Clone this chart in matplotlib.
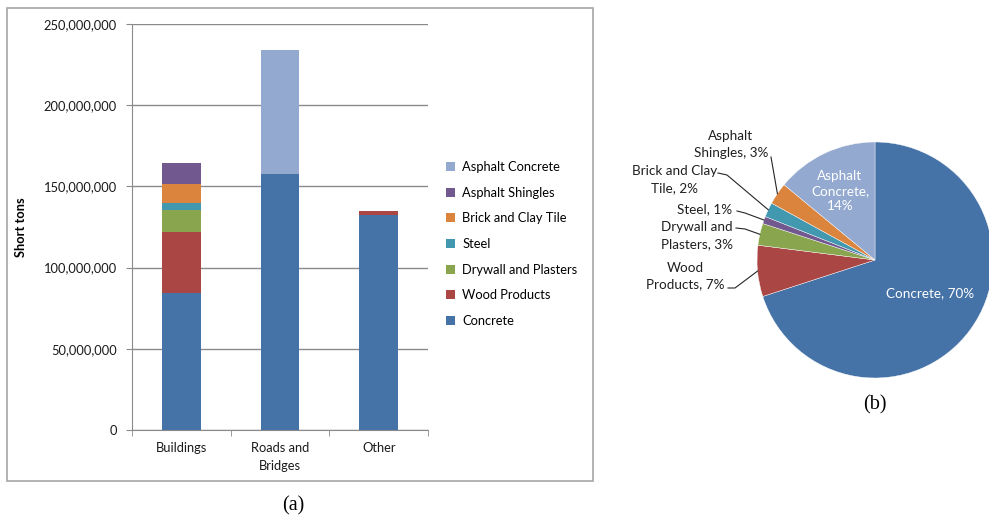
import matplotlib
matplotlib.use("Agg")
import matplotlib.pyplot as plt
from matplotlib.patches import Rectangle, Patch
from matplotlib.ticker import FuncFormatter
import numpy as np

# ---- data ----
categories = ['Buildings', 'Roads and\nBridges', 'Other']
concrete = [84.5e6, 157.4e6, 132.6e6]
wood = [37.6e6, 0, 2.1e6]
drywall = [13.2e6, 0, 0]
steel = [4.5e6, 0, 0]
brick = [11.5e6, 0, 0]
shingles = [13.1e6, 0, 0]
asphalt_concrete = [0, 76.6e6, 0]

series_names = ['Concrete', 'Wood Products', 'Drywall and Plasters', 'Steel',
                'Brick and Clay Tile', 'Asphalt Shingles', 'Asphalt Concrete']
series_values = [concrete, wood, drywall, steel, brick, shingles, asphalt_concrete]
bar_colors = ['#4572A7', '#AA4643', '#89A54E', '#4198AF', '#DB843D', '#71588F', '#93A9CF']

pie_names = ['Concrete', 'Wood\nProducts', 'Drywall and\nPlasters', 'Steel',
             'Brick and Clay\nTile', 'Asphalt\nShingles', 'Asphalt\nConcrete']
pie_pct = [70, 7, 3, 1, 2, 3, 14]
pie_colors = ['#4572A7', '#AA4643', '#89A54E', '#71588F', '#4198AF', '#DB843D', '#93A9CF']

plt.rcParams['font.family'] = ['Lato', 'DejaVu Sans']
W, H = 989, 522
fig = plt.figure(figsize=(W / 100, H / 100), dpi=100)

def px(x0, y0, x1, y1):
    # pixel box (top-left origin) -> figure fraction rect
    return [x0 / W, 1 - y1 / H, (x1 - x0) / W, (y1 - y0) / H]

# ---- panel (a): stacked bars ----
ax = fig.add_axes(px(132, 24, 428, 430))
x = np.arange(len(categories))
bottom = np.zeros(len(categories))
for name, vals, c in zip(series_names, series_values, bar_colors):
    ax.bar(x, vals, 0.39, bottom=bottom, color=c, label=name, zorder=3)
    bottom += np.array(vals)

ax.set_xlim(-0.5, 2.5)
ax.set_ylim(0, 250e6)
ax.set_yticks(np.arange(0, 250e6 + 1, 50e6))
ax.yaxis.set_major_formatter(FuncFormatter(lambda v, p: f'{v:,.0f}'))
ax.grid(axis='y', color='#8a8a8a', linewidth=1, zorder=0)
for s in ['top', 'right']:
    ax.spines[s].set_visible(False)
for s in ['left', 'bottom']:
    ax.spines[s].set_color('#8a8a8a')
ax.set_xticks(x)
ax.set_xticklabels(categories, fontsize=9.3, linespacing=1.5)
ax.set_xticks([-0.5, 0.5, 1.5, 2.5], minor=True)
ax.tick_params(axis='x', which='major', length=0, pad=9, colors='#1a1a1a')
ax.tick_params(axis='x', which='minor', length=4, color='#8a8a8a')
ax.tick_params(axis='y', length=4, pad=7, color='#8a8a8a', labelsize=9.3, labelcolor='#1a1a1a')
ax.set_ylabel('Short tons', fontsize=9.3, fontweight='bold', labelpad=12)

handles = [Patch(facecolor=c) for c in bar_colors][::-1]
labels = series_names[::-1]
fig.legend(handles, labels, loc='center left', bbox_to_anchor=(446 / W, 1 - 244 / H),
           frameon=False, fontsize=9.3, handlelength=0.7, handleheight=0.7,
           handletextpad=0.55, labelspacing=1.05, borderaxespad=0, borderpad=0)

fig.add_artist(Rectangle((7 / W, 1 - 481 / H), 586 / W, 473 / H, transform=fig.transFigure,
                         fill=False, edgecolor='#a6a6a6', linewidth=1.2))
fig.text(293 / W, 1 - 506 / H, '(a)', family='Liberation Serif', fontsize=14.5,
         ha='center', va='center')

# ---- panel (b): pie (pixel coordinates, y up) ----
pax = fig.add_axes([0, 0, 1, 1])
cx, cy, r = 875, H - 260, 118
wedges, _ = pax.pie(pie_pct, colors=pie_colors, startangle=90, counterclock=False,
                    center=(cx, cy), radius=r,
                    wedgeprops=dict(linewidth=0.3, edgecolor='white'))
pax.set_xlim(0, W)
pax.set_ylim(0, H)
pax.axis('off')

def anchor(i):
    w = wedges[i]
    a = np.deg2rad((w.theta1 + w.theta2) / 2)
    return cx + r * np.cos(a), cy + r * np.sin(a)

lbl = [f'{n}, {p}%' for n, p in zip(pie_names, pie_pct)]
lbl[6] = 'Asphalt\nConcrete,\n14%'
tcol = '#1f1f1f'
fs = 9.7
# inside labels
pax.text(930, H - 293, lbl[0], color='white', fontsize=fs, ha='center', va='center')
pax.text(840, H - 191, lbl[6], color='white', fontsize=fs, ha='center', va='center',
         linespacing=1.35)

# outside labels: text centre (x, y) and the leader's first points
outside = {
    1: (685, 276, [(728, 288), (735, 288)]),
    2: (697, 235.5, [(736, 228), (745, 229)]),
    3: (705, 209, [(737, 211), (745, 213)]),
    4: (674.5, 179.5, [(718, 173), (727, 175)]),
    5: (731, 144.5, [(771, 157)]),
}
for i, (tx, ty, pts) in outside.items():
    pax.text(tx, H - ty, lbl[i], color=tcol, fontsize=fs, ha='center', va='center',
             linespacing=1.45)
    ax_, ay_ = anchor(i)
    xs = [p[0] for p in pts] + [ax_]
    ys = [H - p[1] for p in pts] + [ay_]
    pax.plot(xs, ys, color='#262626', linewidth=0.8)

fig.text(875 / W, 1 - 405 / H, '(b)', family='Liberation Serif', fontsize=14.5,
         ha='center', va='center')

fig.savefig('out.png', dpi=100)
